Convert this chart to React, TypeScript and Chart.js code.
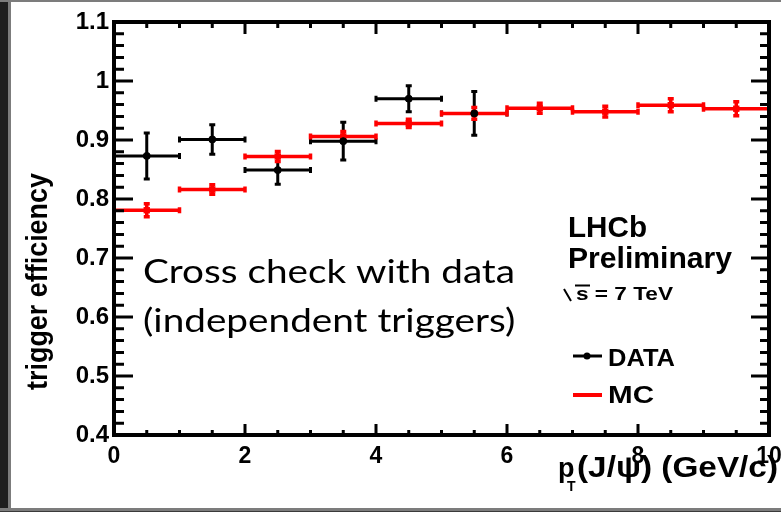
import React, { useEffect, useRef } from "react";
import { Chart, registerables } from "chart.js";

Chart.register(...registerables);

// ---- data ----
const binCenters = [0.5, 1.5, 2.5, 3.5, 4.5, 5.5, 6.5, 7.5, 8.5, 9.5];
const binHalfWidth = 0.5;
const dataCenters = [0.5, 1.5, 2.5, 3.5, 4.5, 5.5];
const dataValues = [0.873, 0.901, 0.849, 0.898, 0.970, 0.945];
const dataErrors = [0.039, 0.025, 0.024, 0.032, 0.022, 0.037];
const mcValues = [0.781, 0.816, 0.872, 0.906, 0.928, 0.945, 0.954, 0.948, 0.959, 0.953];
const mcErrors = [0.011, 0.008, 0.0085, 0.0085, 0.007, 0.01, 0.0085, 0.009, 0.011, 0.012];
const xMin = 0;
const xMax = 10;
const yMin = 0.4;
const yMax = 1.1;
const xStep = 2;
const yStep = 0.1;
const xMinorStep = 0.5;
const yMinorStep = 0.02;
const yTitle = "trigger efficiency";
const legendLabels = ["DATA", "MC"];
const noteLines = ["Cross check with data", "(independent triggers)"];

const BOLD = "'Liberation Sans', Arial, sans-serif";

function fitText(ctx: CanvasRenderingContext2D, text: string, x: number, y: number, font: string, width?: number) {
  ctx.save();
  ctx.font = font;
  ctx.textAlign = "left";
  ctx.textBaseline = "alphabetic";
  const w = ctx.measureText(text).width;
  ctx.translate(x, y);
  if (width) ctx.scale(width / w, 1);
  ctx.fillText(text, 0, 0);
  ctx.restore();
}

const framePlugin = {
  id: "rootFrame",
  beforeDraw(chart: any) {
    const { ctx, width, height } = chart;
    ctx.save();
    ctx.fillStyle = "#ffffff";
    ctx.fillRect(0, 0, width, height);
    ctx.fillStyle = "#1e1e1e";
    ctx.fillRect(0, 0, 8, height);
    ctx.fillStyle = "#7c7c7c";
    ctx.fillRect(8, 0, 3, height);
    ctx.fillRect(0, 0, width, 2);
    ctx.fillRect(0, 508, width, 3);
    ctx.fillStyle = "#3a3a3a";
    ctx.fillRect(0, 511, width, 1);
    ctx.restore();
  },
  beforeDatasetsDraw(chart: any) {
    const { ctx } = chart;
    const xs = chart.scales.x;
    const ys = chart.scales.y;
    chart.data.datasets.forEach((ds: any) => {
      ctx.save();
      ctx.strokeStyle = ds.borderColor;
      ctx.lineWidth = ds.barLineWidth;
      ctx.lineCap = "butt";
      const cap = ds.capSize;
      ds.data.forEach((p: any, i: number) => {
        const cx = xs.getPixelForValue(p.x);
        const x0 = xs.getPixelForValue(p.x - binHalfWidth);
        const x1 = xs.getPixelForValue(p.x + binHalfWidth);
        const cy = ys.getPixelForValue(p.y);
        const yl = ys.getPixelForValue(p.y - ds.errors[i]);
        const yh = ys.getPixelForValue(p.y + ds.errors[i]);
        ctx.beginPath();
        ctx.moveTo(x0, cy);
        ctx.lineTo(x1, cy);
        ctx.moveTo(x0, cy - cap);
        ctx.lineTo(x0, cy + cap);
        ctx.moveTo(x1, cy - cap);
        ctx.lineTo(x1, cy + cap);
        ctx.moveTo(cx, yl);
        ctx.lineTo(cx, yh);
        ctx.moveTo(cx - cap, yl);
        ctx.lineTo(cx + cap, yl);
        ctx.moveTo(cx - cap, yh);
        ctx.lineTo(cx + cap, yh);
        ctx.stroke();
      });
      ctx.restore();
    });
  },
  afterDraw(chart: any) {
    const { ctx, chartArea } = chart;
    const { left, right, top, bottom } = chartArea;
    const xs = chart.scales.x;
    const ys = chart.scales.y;
    ctx.save();
    ctx.strokeStyle = "#000";
    // ticks
    ctx.lineWidth = 3;
    ctx.beginPath();
    const nY = Math.round((yMax - yMin) / yMinorStep);
    for (let i = 0; i <= nY; i++) {
      const v = yMin + i * yMinorStep;
      const py = ys.getPixelForValue(v);
      const major = i % 5 === 0;
      ctx.moveTo(left, py);
      ctx.lineTo(left + (major ? 19 : 10), py);
      ctx.moveTo(right, py);
      ctx.lineTo(right - (major ? 18 : 9), py);
    }
    const nX = Math.round((xMax - xMin) / xMinorStep);
    for (let i = 0; i <= nX; i++) {
      const v = xMin + i * xMinorStep;
      const px = xs.getPixelForValue(v);
      const major = i % 4 === 0;
      ctx.moveTo(px, bottom);
      ctx.lineTo(px, bottom - (major ? 11 : 5));
      ctx.moveTo(px, top);
      ctx.lineTo(px, top + (major ? 12 : 6));
    }
    ctx.stroke();
    // frame
    ctx.lineWidth = 4;
    ctx.strokeRect(left, top, right - left, bottom - top);

    ctx.fillStyle = "#000";
    // y title
    ctx.save();
    ctx.font = `bold 30px ${BOLD}`;
    const tw = ctx.measureText(yTitle).width;
    ctx.translate(47, 390);
    ctx.rotate(-Math.PI / 2);
    ctx.scale(217 / tw, 1);
    ctx.textBaseline = "alphabetic";
    ctx.fillText(yTitle, 0, 0);
    ctx.restore();

    // x title
    fitText(ctx, "p", 558, 477, `bold 27px ${BOLD}`);
    fitText(ctx, "T", 567, 491, `bold 14px ${BOLD}`);
    fitText(ctx, "(J/\u03C8) (GeV/c)", 577, 477, `bold 29px ${BOLD}`, 201);

    // LHCb label
    fitText(ctx, "LHCb", 568, 237, `bold 30px ${BOLD}`, 79);
    fitText(ctx, "Preliminary", 568, 268, `bold 30px ${BOLD}`, 164);
    // sqrt(s)
    ctx.lineWidth = 2;
    ctx.beginPath();
    ctx.moveTo(564, 289);
    ctx.lineTo(571, 301);
    ctx.moveTo(575, 285.5);
    ctx.lineTo(590, 285.5);
    ctx.stroke();
    fitText(ctx, "s = 7 TeV", 576, 300, `bold 19px ${BOLD}`, 97);

    // legend
    ctx.lineWidth = 3;
    ctx.strokeStyle = "#000";
    ctx.beginPath();
    ctx.moveTo(573, 356);
    ctx.lineTo(602, 356);
    ctx.stroke();
    ctx.beginPath();
    ctx.arc(587, 356, 3.5, 0, Math.PI * 2);
    ctx.fill();
    fitText(ctx, legendLabels[0], 608, 366, `bold 24px ${BOLD}`, 67);
    ctx.strokeStyle = "#ff0000";
    ctx.lineWidth = 4;
    ctx.beginPath();
    ctx.moveTo(573, 395);
    ctx.lineTo(602, 395);
    ctx.stroke();
    fitText(ctx, legendLabels[1], 608, 403, `bold 24px ${BOLD}`, 46);

    // note
    ctx.fillStyle = "#000";
    fitText(ctx, noteLines[0], 143, 283, `32px Lato, 'Open Sans', sans-serif`, 372);
    ctx.font = `32px Lato, 'Open Sans', sans-serif`;
    const w0 = ctx.measureText(noteLines[0]).width;
    const sc = 372 / w0;
    fitText(ctx, noteLines[1], 143, 332, `32px Lato, 'Open Sans', sans-serif`, ctx.measureText(noteLines[1]).width * sc);
    ctx.restore();
  },
};

export default function App() {
  const ref = useRef<HTMLCanvasElement | null>(null);
  useEffect(() => {
    if (!ref.current) return;
    const chart = new Chart(ref.current, {
      type: "scatter",
      data: {
        datasets: [
          {
            label: legendLabels[0],
            data: dataCenters.map((x, i) => ({ x, y: dataValues[i] })),
            errors: dataErrors,
            borderColor: "#000000",
            backgroundColor: "#000000",
            pointStyle: "circle",
            pointRadius: 3.5,
            pointBorderWidth: 1,
            barLineWidth: 3,
            capSize: 3,
            order: 0,
          } as any,
          {
            label: legendLabels[1],
            data: binCenters.map((x, i) => ({ x, y: mcValues[i] })),
            errors: mcErrors,
            borderColor: "#ff0000",
            backgroundColor: "#ff0000",
            pointStyle: "rect",
            pointRadius: 4.5,
            pointBorderWidth: 0,
            barLineWidth: 3.5,
            capSize: 3,
            order: 1,
          } as any,
        ],
      },
      options: {
        animation: false,
        responsive: true,
        maintainAspectRatio: false,
        layout: { padding: { left: 0, right: 12, top: 22, bottom: 0 } },
        plugins: { legend: { display: false }, tooltip: { enabled: false } },
        scales: {
          x: {
            type: "linear",
            min: xMin,
            max: xMax,
            grid: { display: false, drawTicks: false },
            border: { display: false },
            ticks: {
              stepSize: xStep,
              padding: 8,
              color: "#000",
              font: { family: BOLD, weight: "bold", size: 23 },
              maxRotation: 0,
              autoSkip: false,
            },
            afterFit: (s: any) => {
              s.height = 77;
              s.paddingLeft = 0;
              s.paddingRight = 0;
            },
          },
          y: {
            type: "linear",
            min: yMin,
            max: yMax,
            grid: { display: false, drawTicks: false },
            border: { display: false },
            ticks: {
              stepSize: yStep,
              padding: 5,
              color: "#000",
              font: { family: BOLD, weight: "bold", size: 24 },
              callback: (v: any) => {
                const n = Math.round(Number(v) * 10) / 10;
                return String(n);
              },
            },
            afterFit: (s: any) => {
              s.width = 114;
              s.paddingTop = 0;
              s.paddingBottom = 0;
            },
          },
        },
      } as any,
      plugins: [framePlugin],
    });
    return () => chart.destroy();
  }, []);
  return (
    <div style={{ position: "fixed", left: 0, top: 0, width: 781, height: 512 }}>
      <canvas ref={ref} />
    </div>
  );
}
